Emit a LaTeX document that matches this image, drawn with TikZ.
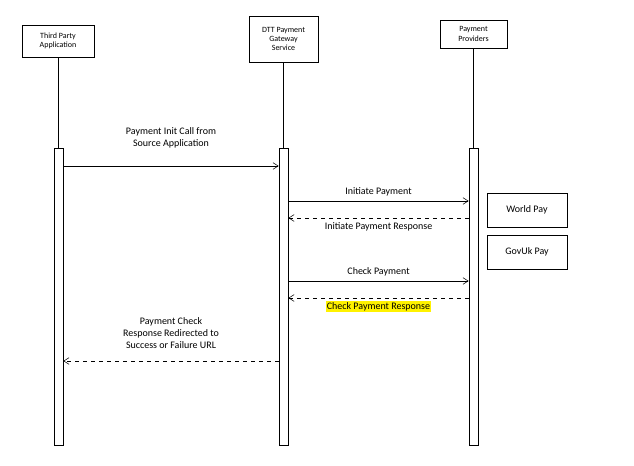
\documentclass[tikz,border=0pt]{standalone}
\usepackage{fontspec}
\setmainfont{Carlito}
\usetikzlibrary{arrows.meta}
\begin{document}
\begin{tikzpicture}[x=0.75pt,y=-0.75pt,
 box/.style={draw,fill=white,align=center,font=\fontsize{6}{7}\selectfont,inner sep=0pt},
 bar/.style={draw,fill=white,minimum width=6.75pt,inner sep=0pt},
 lbl/.style={font=\fontsize{7.5}{9}\selectfont,align=center},
 msg/.style={-{Straight Barb[length=4pt,width=5pt]},thin},
 ret/.style={msg,dashed}]
\useasboundingbox (0,0) rectangle (634,466);
\node[box,minimum width=54pt,minimum height=24pt] (a) at (58,41) {Third Party\\Application};
\node[box,minimum width=51.75pt,minimum height=34.5pt] (b) at (283.5,39) {DTT Payment\\Gateway\\Service};
\node[box,minimum width=50.25pt,minimum height=21pt] (c) at (473.5,34) {Payment\\Providers};
\coordinate (a1) at (58,148); \coordinate (b1) at (283.5,148); \coordinate (c1) at (473.5,148);
\draw (a.south) -- (a1); \draw (b.south) -- (b1); \draw (c.south) -- (c1);
\node[bar,minimum height=222.75pt] (A) at (58.5,296.5) {};
\node[bar,minimum height=222.75pt] (B) at (283.5,296.5) {};
\node[bar,minimum height=222.75pt] (C) at (473.5,296.5) {};
\node[box,font=\fontsize{7.5}{9}\selectfont,minimum width=60pt,minimum height=25.5pt] (w) at (527,210) {World Pay};
\node[box,font=\fontsize{7.5}{9}\selectfont,minimum width=60pt,minimum height=25.5pt] (g) at (527,252) {GovUk Pay};
\draw[msg] (A.east |- 0,166) -- node[lbl,above=10pt]{Payment Init Call from\\Source Application} (B.west |- 0,166);
\draw[msg] (B.east |- 0,201) -- node[lbl,above]{Initiate Payment} (C.west |- 0,201);
\draw[ret] (C.west |- 0,218) -- node[lbl,below]{Initiate Payment Response} (B.east |- 0,218);
\draw[msg] (B.east |- 0,281) -- node[lbl,above]{Check Payment} (C.west |- 0,281);
\draw[ret] (C.west |- 0,298) -- node[lbl,below,fill=yellow,inner sep=1pt,yshift=-2pt]{Check Payment Response} (B.east |- 0,298);
\draw[ret] (B.west |- 0,361) -- node[lbl,above=6pt]{Payment Check\\Response Redirected to\\Success or Failure URL} (A.east |- 0,361);
\end{tikzpicture}
\end{document}
